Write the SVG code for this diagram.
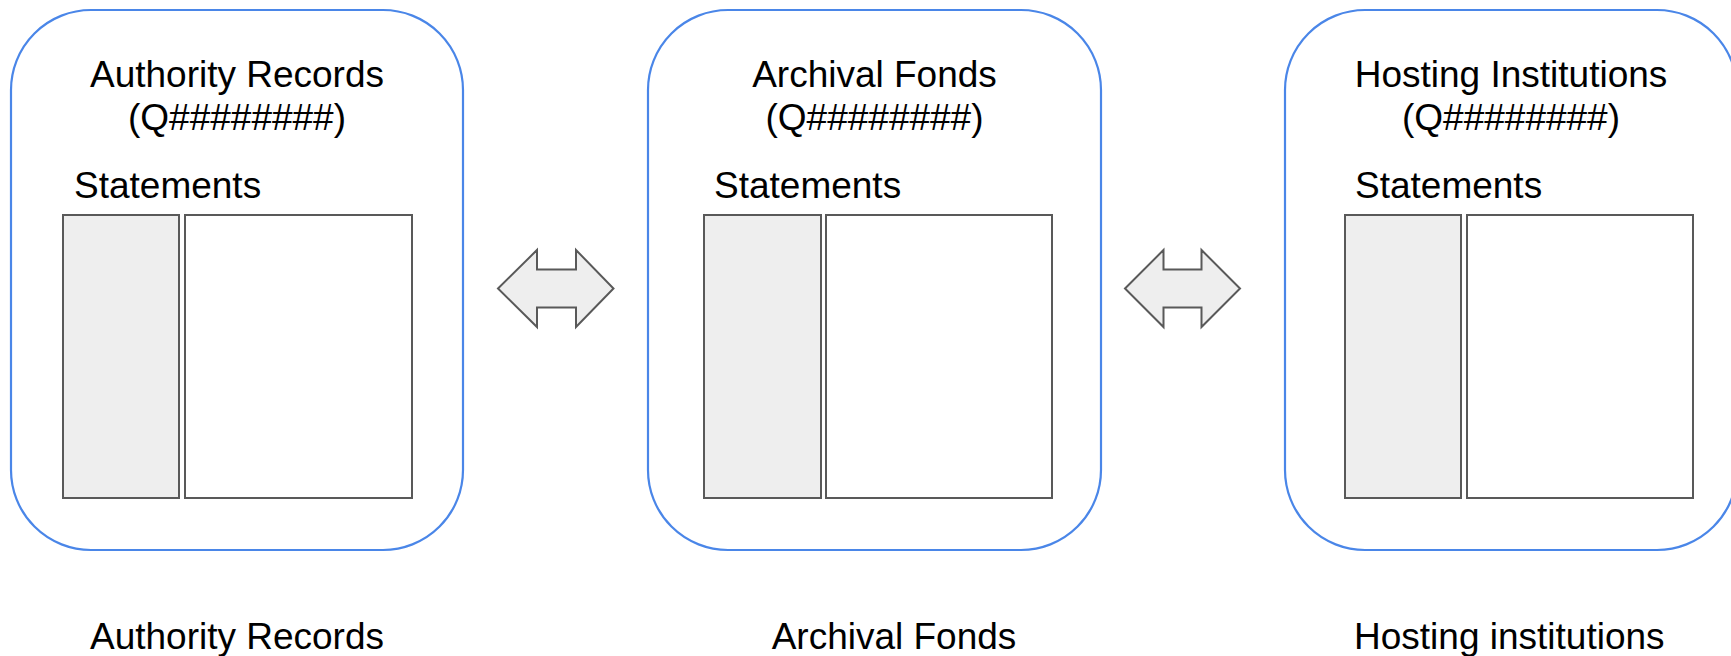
<svg xmlns="http://www.w3.org/2000/svg" width="1731" height="656" viewBox="0 0 1731 656">
<style>
.frame{fill:#ffffff;stroke:#4a86e8;stroke-width:2.2}
.key{fill:#eeeeee;stroke:#595959;stroke-width:2}
.val{fill:#ffffff;stroke:#595959;stroke-width:2}
.arrow{fill:#eeeeee;stroke:#595959;stroke-width:2;stroke-linejoin:miter}
text{font-family:"Liberation Sans",Arial,sans-serif;font-size:37px;fill:#000000}
.c{text-anchor:middle}
</style>
<rect width="1731" height="656" fill="#ffffff"/>
<g id="node-authority">
<rect class="frame" x="11" y="10" width="452" height="540" rx="80" ry="80"/>
<text class="c" x="237" y="87">Authority Records</text>
<text class="c" x="237" y="130">(Q########)</text>
<text x="74" y="198">Statements</text>
<rect class="key" x="63" y="215" width="116" height="283"/>
<rect class="val" x="185" y="215" width="227" height="283"/>
</g>
<g id="node-fonds">
<rect class="frame" x="648" y="10" width="453" height="540" rx="80" ry="80"/>
<text class="c" x="874.5" y="87">Archival Fonds</text>
<text class="c" x="874.5" y="130">(Q########)</text>
<text x="714" y="198">Statements</text>
<rect class="key" x="704" y="215" width="117" height="283"/>
<rect class="val" x="826" y="215" width="226" height="283"/>
</g>
<g id="node-hosting">
<rect class="frame" x="1285" y="10" width="452" height="540" rx="80" ry="80"/>
<text class="c" x="1511" y="87">Hosting Institutions</text>
<text class="c" x="1511" y="130">(Q########)</text>
<text x="1355" y="198">Statements</text>
<rect class="key" x="1345" y="215" width="116" height="283"/>
<rect class="val" x="1467" y="215" width="226" height="283"/>
</g>
<g id="connectors">
<polygon class="arrow" points="498,288.5 537,250 537,269.5 576,269.5 576,250 613.5,288.5 576,327 576,307.5 537,307.5 537,327"/>
<polygon class="arrow" points="1125,288.5 1163.5,250 1163.5,269.5 1201.5,269.5 1201.5,250 1240,288.5 1201.5,327 1201.5,307.5 1163.5,307.5 1163.5,327"/>
</g>
<g id="labels">
<text class="c" x="237" y="649">Authority Records</text>
<text class="c" x="894" y="649">Archival Fonds</text>
<text x="1354" y="649">Hosting institutions</text>
</g>
</svg>
